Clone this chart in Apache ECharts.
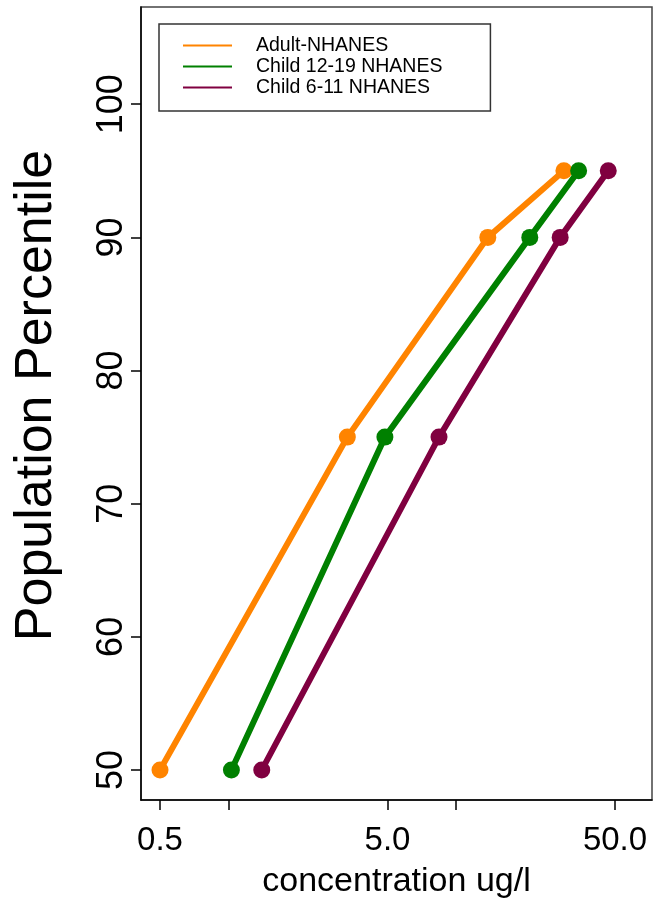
<!DOCTYPE html>
<html>
<head>
<meta charset="utf-8">
<script src="https://cdn.jsdelivr.net/npm/echarts@6/dist/echarts.min.js"></script>
<style>
html,body{margin:0;padding:0;background:#fff;}
#chart{width:654px;height:900px;}
</style>
</head>
<body>
<div id="chart"></div>
<script>
// Data
const percentiles = [50, 75, 90, 95];
const adultNHANES = [0.5, 3.33, 13.8, 29.8];
const child1219NHANES = [1.03, 4.87, 21.1, 34.6];
const child611NHANES = [1.40, 8.42, 28.7, 46.7];
const seriesNames = ['Adult-NHANES', 'Child 12-19 NHANES', 'Child 6-11 NHANES'];
const xTickValues = [0.5, 1, 5, 10, 50];
const xLabelValues = [0.5, 5, 50];
const yTickValues = [50, 60, 70, 80, 90, 100];

const colors = ['#FF8400', '#008000', '#800040'];
const font = 'Liberation Sans, Arial, Helvetica, sans-serif';

function pairs(xs) { return xs.map((x, i) => [x, percentiles[i]]); }

const chart = echarts.init(document.getElementById('chart'), null, {renderer: 'canvas'});
const seriesData = [adultNHANES, child1219NHANES, child611NHANES];

chart.setOption({
  animation: false,
  backgroundColor: '#fff',
  grid: {
    left: 141, right: 2, top: 7, bottom: 100,
    show: true, borderColor: '#444', borderWidth: 1.5,
    containLabel: false, outerBoundsMode: 'none'
  },
  legend: {
    orient: 'vertical',
    left: 159, top: 24,
    padding: [11, 48, 13, 24],
    borderColor: '#333', borderWidth: 1.5, borderRadius: 0,
    icon: 'rect',
    itemWidth: 49, itemHeight: 2,
    itemGap: 0,
    textStyle: {fontFamily: font, fontSize: 19.5, color: '#000', lineHeight: 21, padding: [0, 0, 0, 19]},
    data: seriesNames
  },
  xAxis: {
    type: 'log',
    logBase: 10,
    min: 0.4125, max: 72.7,
    name: 'concentration ug/l',
    nameLocation: 'middle',
    nameGap: 65,
    nameTextStyle: {fontFamily: font, fontSize: 34, color: '#000'},
    axisLine: {show: true, lineStyle: {color: '#000', width: 1.5}},
    axisTick: {show: true, length: 10, lineStyle: {color: '#000', width: 1.5}, customValues: xTickValues},
    axisLabel: {
      fontFamily: font, fontSize: 33, color: '#000', margin: 24,
      customValues: xLabelValues,
      formatter: v => Number(v).toFixed(1)
    },
    splitLine: {show: false},
    minorTick: {show: false}
  },
  yAxis: {
    type: 'value',
    min: 47.75, max: 107.3,
    name: 'Population Percentile',
    nameLocation: 'middle',
    nameGap: 78,
    nameTextStyle: {fontFamily: font, fontSize: 52, color: '#000', padding: [0, 0, 0, 16]},
    axisLine: {show: true, lineStyle: {color: '#000', width: 1.5}},
    axisTick: {show: true, length: 10, lineStyle: {color: '#000', width: 1.5}, customValues: yTickValues},
    axisLabel: {
      fontFamily: font, fontSize: 36, color: '#000', margin: 11, rotate: 90,
      customValues: yTickValues
    },
    splitLine: {show: false}
  },
  series: seriesNames.map((name, i) => ({
    name: name,
    type: 'line',
    data: pairs(seriesData[i]),
    symbol: 'circle',
    symbolSize: 17,
    lineStyle: {color: colors[i], width: 6},
    itemStyle: {color: colors[i]},
    z: 2 + i
  }))
});
</script>
</body>
</html>
